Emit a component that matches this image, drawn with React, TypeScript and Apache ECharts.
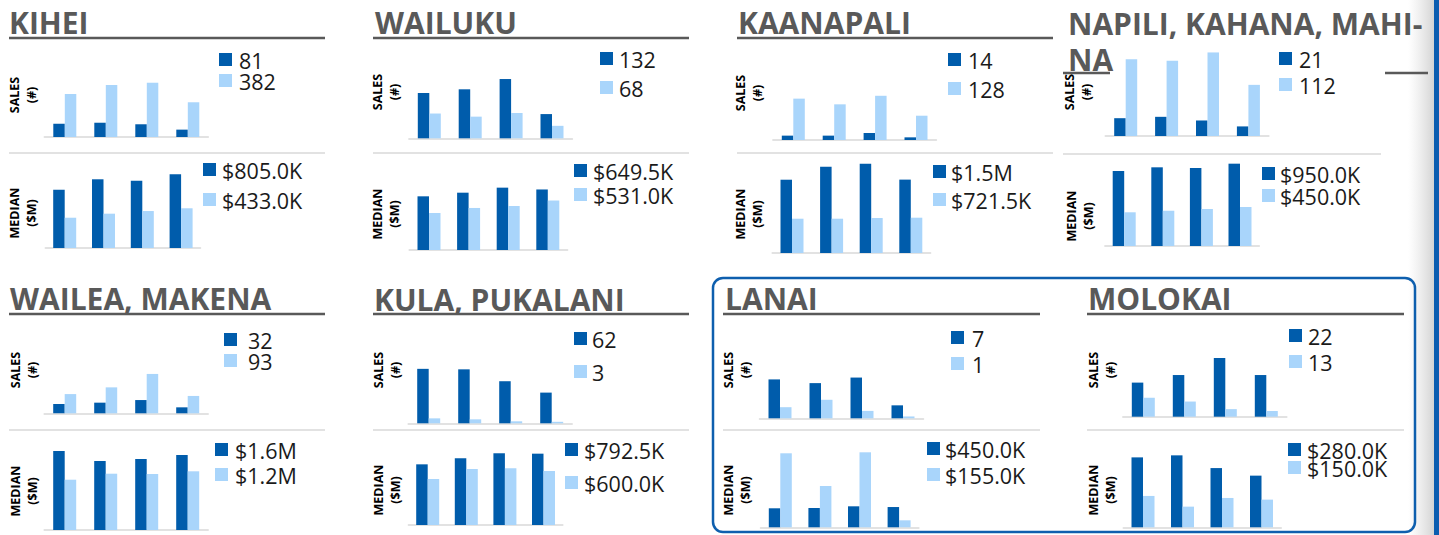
import React, { useEffect, useRef } from "react";
import * as echarts from "echarts";

// ---------- DATA ----------
const PERIODS = ["P1", "P2", "P3", "P4"];
const DISTRICTS = [
  "KIHEI",
  "WAILUKU",
  "KAANAPALI",
  "NAPILI, KAHANA, MAHI-\nNA",
  "WAILEA, MAKENA",
  "KULA, PUKALANI",
  "LANAI",
  "MOLOKAI",
];

const kiheiSalesDark = [146, 157, 140, 81];
const kiheiSalesLight = [473, 572, 597, 382];
const kiheiMedianDark = [635, 749, 734, 805];
const kiheiMedianLight = [330, 374, 403, 433];
const kiheiSalesLegend = ["81", "382"];
const kiheiMedianLegend = ["$805.0K", "$433.0K"];

const wailukuSalesDark = [247, 267, 323, 132];
const wailukuSalesLight = [135, 118, 138, 68];
const wailukuMedianDark = [576, 615, 669, 649.5];
const wailukuMedianLight = [397, 451, 472, 531];
const wailukuSalesLegend = ["132", "68"];
const wailukuMedianLegend = ["$649.5K", "$531.0K"];

const kaanapaliSalesDark = [23, 23, 37, 14];
const kaanapaliSalesLight = [218, 188, 233, 128];
const kaanapaliMedianDark = [1498, 1764, 1825, 1500];
const kaanapaliMedianLight = [701, 701, 715, 721.5];
const kaanapaliSalesLegend = ["14", "128"];
const kaanapaliMedianLegend = ["$1.5M", "$721.5K"];

const napiliSalesDark = [39, 42, 34, 21];
const napiliSalesLight = [168, 165, 183, 112];
const napiliMedianDark = [866, 908, 900, 950];
const napiliMedianLight = [389, 407, 427, 450];
const napiliSalesLegend = ["21", "112"];
const napiliMedianLegend = ["$950.0K", "$450.0K"];

const waileaSalesDark = [50, 57, 71, 32];
const waileaSalesLight = [103, 139, 211, 93];
const waileaMedianDark = [1643, 1435, 1477, 1560];
const waileaMedianLight = [1046, 1171, 1165, 1221];
const waileaSalesLegend = ["32", "93"];
const waileaMedianLegend = ["$1.6M", "$1.2M"];

const kulaSalesDark = [110, 109, 85, 62];
const kulaSalesLight = [10, 8, 4, 3];
const kulaMedianDark = [674, 741, 797, 792.5];
const kulaMedianLight = [511, 622, 630, 600];
const kulaSalesLegend = ["62", "3"];
const kulaMedianLegend = ["$792.5K", "$600.0K"];

const lanaiSalesDark = [21, 19, 22, 7];
const lanaiSalesLight = [6, 10, 4, 1];
const lanaiMedianDark = [422, 428, 466, 450];
const lanaiMedianLight = [1643, 917, 1665, 155];
const lanaiSalesLegend = ["7", "1"];
const lanaiMedianLegend = ["$450.0K", "$155.0K"];

const molokaiSalesDark = [18, 22, 31, 22];
const molokaiSalesLight = [10, 8, 4, 3];
const molokaiMedianDark = [379, 390, 321, 280];
const molokaiMedianLight = [170, 112, 159, 150];
const molokaiSalesLegend = ["22", "13"];
const molokaiMedianLegend = ["$280.0K", "$150.0K"];

const SALES_LABEL = "SALES\n(#)";
const MEDIAN_LABEL = "MEDIAN\n($M)";

// ---------- STYLE / LAYOUT ----------
const DARK = "#005CAB";
const LIGHT = "#A9D5FB";
const TITLE_COLOR = "#595959";
const FONT = "'Open Sans', 'Noto Sans', sans-serif";

type ChartBox = { c1: number; s: number; base: number; k: number; sqX: number; darkY: number; lightY: number; textX: number };
type Panel = {
  tx: number; ty: number;
  under: number[][];
  sep: number[];
  sl: number[]; ml: number[];
  sales: ChartBox; median: ChartBox;
};

const PANELS: Panel[] = [
  { tx: 9, ty: 22.5, under: [[9, 325, 38]], sep: [9, 325, 153], sl: [23, 95], ml: [23, 213],
    sales: { c1: 64.8, s: 41, base: 137, k: 11, sqX: 219, darkY: 53, lightY: 74, textX: 239 },
    median: { c1: 64.7, s: 38.8, base: 248, k: 10.9, sqX: 203, darkY: 163, lightY: 193, textX: 222 } },
  { tx: 375, ty: 22.5, under: [[373, 689, 38]], sep: [373, 689, 153], sl: [386, 92], ml: [386, 214],
    sales: { c1: 429.3, s: 40.9, base: 138.3, k: 5.45, sqX: 600, darkY: 52, lightY: 81, textX: 619 },
    median: { c1: 429, s: 39.6, base: 250, k: 10.73, sqX: 574, darkY: 164, lightY: 188, textX: 593 } },
  { tx: 738, ty: 22.5, under: [[737, 1053, 38]], sep: [737, 1053, 153], sl: [749, 93], ml: [749, 214],
    sales: { c1: 793.3, s: 40.9, base: 140, k: 5.27, sqX: 948, darkY: 53, lightY: 82, textX: 968 },
    median: { c1: 792, s: 39.6, base: 253, k: 20.44, sqX: 933, darkY: 165, lightY: 193, textX: 951 } },
  { tx: 1068, ty: 41, under: [[1063, 1110, 73], [1385, 1428, 73]], sep: [1063, 1381, 154], sl: [1078, 92], ml: [1080, 216],
    sales: { c1: 1125.7, s: 40.9, base: 136, k: 2.19, sqX: 1279, darkY: 52, lightY: 78, textX: 1299 },
    median: { c1: 1124.2, s: 38.6, base: 246, k: 11.54, sqX: 1262, darkY: 167, lightY: 189, textX: 1280 } },
  { tx: 10, ty: 298, under: [[9, 325, 314]], sep: [9, 325, 430], sl: [24, 370], ml: [24, 491],
    sales: { c1: 64.7, s: 41, base: 413.3, k: 5.36, sqX: 224, darkY: 333, lightY: 354, textX: 248 },
    median: { c1: 64.7, s: 41, base: 530, k: 20.8, sqX: 215, darkY: 443, lightY: 468, textX: 235 } },
  { tx: 374, ty: 299, under: [[373, 689, 314]], sep: [373, 689, 430], sl: [387, 370], ml: [387, 490],
    sales: { c1: 428.7, s: 41, base: 423.3, k: 2.02, sqX: 574, darkY: 332, lightY: 365, textX: 592 },
    median: { c1: 427.7, s: 38.6, base: 525, k: 11.11, sqX: 565, darkY: 443, lightY: 476, textX: 584 } },
  { tx: 725, ty: 298.5, under: [[723, 1040, 314]], sep: [723, 1040, 430], sl: [737, 370], ml: [737, 490],
    sales: { c1: 780, s: 41, base: 418.3, k: 0.54, sqX: 951, darkY: 331, lightY: 357, textX: 972 },
    median: { c1: 780.3, s: 39.6, base: 527.3, k: 22.2, sqX: 927, darkY: 442, lightY: 468, textX: 945 } },
  { tx: 1088, ty: 298.5, under: [[1087, 1404, 314]], sep: [1087, 1404, 430], sl: [1102, 370], ml: [1102, 490],
    sales: { c1: 1143.3, s: 41, base: 416.7, k: 0.528, sqX: 1289, darkY: 329, lightY: 355, textX: 1308 },
    median: { c1: 1143, s: 39.5, base: 527.3, k: 5.42, sqX: 1288, darkY: 443, lightY: 461, textX: 1307 } },
];

const SERIES_DATA = [
  [kiheiSalesDark, kiheiSalesLight, kiheiMedianDark, kiheiMedianLight, kiheiSalesLegend, kiheiMedianLegend],
  [wailukuSalesDark, wailukuSalesLight, wailukuMedianDark, wailukuMedianLight, wailukuSalesLegend, wailukuMedianLegend],
  [kaanapaliSalesDark, kaanapaliSalesLight, kaanapaliMedianDark, kaanapaliMedianLight, kaanapaliSalesLegend, kaanapaliMedianLegend],
  [napiliSalesDark, napiliSalesLight, napiliMedianDark, napiliMedianLight, napiliSalesLegend, napiliMedianLegend],
  [waileaSalesDark, waileaSalesLight, waileaMedianDark, waileaMedianLight, waileaSalesLegend, waileaMedianLegend],
  [kulaSalesDark, kulaSalesLight, kulaMedianDark, kulaMedianLight, kulaSalesLegend, kulaMedianLegend],
  [lanaiSalesDark, lanaiSalesLight, lanaiMedianDark, lanaiMedianLight, lanaiSalesLegend, lanaiMedianLegend],
  [molokaiSalesDark, molokaiSalesLight, molokaiMedianDark, molokaiMedianLight, molokaiSalesLegend, molokaiMedianLegend],
];

const GRID_H = 100;

function buildOption() {
  const grid: any[] = [];
  const xAxis: any[] = [];
  const yAxis: any[] = [];
  const series: any[] = [];
  const graphic: any[] = [];

  const addChart = (box: ChartBox, dark: number[], light: number[], legend: string[], name: string) => {
    const idx = grid.length;
    grid.push({ left: box.c1 - box.s / 2, top: box.base - GRID_H, width: box.s * 4, height: GRID_H });
    xAxis.push({
      gridIndex: idx, type: "category", data: PERIODS,
      axisLine: { show: true, lineStyle: { color: "#D9D9D9", width: 1.5 } },
      axisTick: { show: false }, axisLabel: { show: false }, splitLine: { show: false },
    });
    yAxis.push({ gridIndex: idx, type: "value", min: 0, max: box.k * GRID_H, show: false, splitLine: { show: false } });
    series.push({
      name: name + " " + legend[0], type: "bar", xAxisIndex: idx, yAxisIndex: idx, data: dark,
      barWidth: 11.5, barGap: "0%", itemStyle: { color: DARK }, silent: true,
    });
    series.push({
      name: name + " " + legend[1], type: "bar", xAxisIndex: idx, yAxisIndex: idx, data: light,
      barWidth: 11.5, barGap: "0%", itemStyle: { color: LIGHT }, silent: true,
    });
    const sq = 13;
    graphic.push({ type: "rect", shape: { x: box.sqX, y: box.darkY, width: sq, height: sq }, style: { fill: DARK } });
    graphic.push({ type: "rect", shape: { x: box.sqX, y: box.lightY, width: sq, height: sq }, style: { fill: LIGHT } });
    graphic.push({
      type: "text", x: box.textX, y: box.darkY + sq / 2 + 0.5,
      style: { text: legend[0], fontSize: 21.5, fontFamily: FONT, fill: "#1A1A1A", align: "left", verticalAlign: "middle", lineHeight: 16 },
    });
    graphic.push({
      type: "text", x: box.textX, y: box.lightY + sq / 2 + 0.5,
      style: { text: legend[1], fontSize: 21.5, fontFamily: FONT, fill: "#1A1A1A", align: "left", verticalAlign: "middle", lineHeight: 16 },
    });
  };

  PANELS.forEach((p, i) => {
    const [sd, sl, md, ml, sLeg, mLeg] = SERIES_DATA[i] as any;
    addChart(p.sales, sd, sl, sLeg, DISTRICTS[i] + " sales");
    addChart(p.median, md, ml, mLeg, DISTRICTS[i] + " median");

    graphic.push({
      type: "text", x: p.tx, y: p.ty,
      style: {
        text: DISTRICTS[i], fontSize: 30, fontWeight: "bold", fontFamily: FONT, fill: TITLE_COLOR,
        align: "left", verticalAlign: "middle", lineHeight: 36,
      },
    });
    p.under.forEach((u) => {
      graphic.push({ type: "line", shape: { x1: u[0], y1: u[2], x2: u[1], y2: u[2] }, style: { stroke: TITLE_COLOR, lineWidth: 2.5 } });
    });
    graphic.push({ type: "line", shape: { x1: p.sep[0], y1: p.sep[2], x2: p.sep[1], y2: p.sep[2] }, style: { stroke: "#D9D9D9", lineWidth: 1.5 } });
    graphic.push({
      type: "text", x: p.sl[0], y: p.sl[1], rotation: Math.PI / 2,
      style: { text: SALES_LABEL, fontSize: 12.5, fontWeight: "bold", fontFamily: FONT, fill: "#000", align: "center", verticalAlign: "middle", lineHeight: 17 },
    });
    graphic.push({
      type: "text", x: p.ml[0], y: p.ml[1], rotation: Math.PI / 2,
      style: { text: MEDIAN_LABEL, fontSize: 12.5, fontWeight: "bold", fontFamily: FONT, fill: "#000", align: "center", verticalAlign: "middle", lineHeight: 17 },
    });
  });

  // highlight box around Lanai / Molokai
  graphic.push({
    type: "rect", shape: { x: 713, y: 278, width: 702, height: 254, r: 10 },
    style: { fill: "none", stroke: "#0E5FAE", lineWidth: 2.5 }, z: 10,
  });
  // right edge shadow + blue bar
  graphic.push({
    type: "rect", shape: { x: 1408, y: 0, width: 26, height: 535 },
    style: {
      fill: new echarts.graphic.LinearGradient(0, 0, 1, 0, [
        { offset: 0, color: "rgba(225,225,225,0)" },
        { offset: 1, color: "#D4D4D4" },
      ]),
    },
    z: -1,
  });
  graphic.push({ type: "rect", shape: { x: 1434, y: 0, width: 5, height: 535 }, style: { fill: "#0B5DB0" }, z: 10 });

  return {
    animation: false,
    backgroundColor: "#FFFFFF",
    grid, xAxis, yAxis, series, graphic,
  };
}

export default function App() {
  const ref = useRef<HTMLDivElement>(null);
  useEffect(() => {
    if (!ref.current) return;
    const chart = echarts.init(ref.current, undefined, { renderer: "svg" });
    chart.setOption(buildOption() as any);
    return () => chart.dispose();
  }, []);
  return (
    <div
      ref={ref}
      style={{ position: "fixed", left: 0, top: 0, width: 1439, height: 535, background: "#fff" }}
    />
  );
}
